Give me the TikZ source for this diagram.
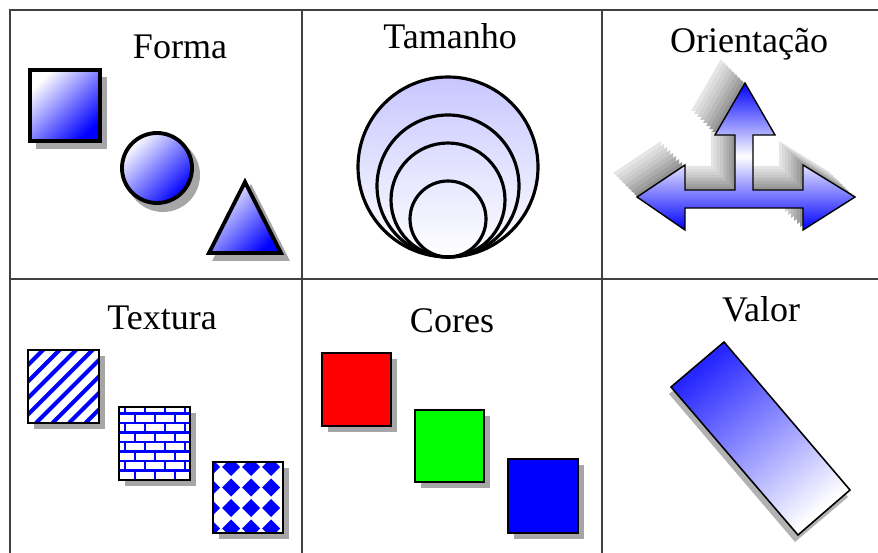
\documentclass[tikz,border=0pt]{standalone}
\usepackage{fontspec}
\setmainfont{Liberation Serif}
\usetikzlibrary{positioning}

% outline of the three-way arrow (pixel units, y downwards)
\newcommand{\triarrow}{(745,83) -- (775,135) -- (753,135) -- (753,190) -- (803,190) -- (803,165)
  -- (855,197) -- (803,230) -- (803,208) -- (685,208) -- (685,230) -- (637,197) -- (685,165)
  -- (685,190) -- (735,190) -- (735,135) -- (715,135) -- cycle}

\begin{document}
\begin{tikzpicture}[x=0.02cm, y=-0.02cm,
    grid/.style={draw=black!75, line width=1.1pt},
    title/.style={anchor=base, inner sep=0pt, font=\fontsize{20.5}{24}\selectfont},
    shadow/.style={fill=black!35, draw=none},
    solidshape/.style={draw=black, line width=2.2pt, top color=white, bottom color=blue, shading angle=45},
    ring/.style={draw=black, line width=1.8pt},
    swatch/.style={draw=black, line width=1.1pt},
    stripe/.style={draw=blue, line width=2.4pt},
    brick/.style={draw=blue, line width=1.6pt}]

    \useasboundingbox (0,0) rectangle (878,553);

    % frame of the six cells
    \draw[grid] (878,10) -- (10,10) -- (10,553);
    \draw[grid] (302,10) -- (302,553);
    \draw[grid] (602,10) -- (602,553);
    \draw[grid] (10,279) -- (878,279);

    \node[title] (forma) at (180,59) {Forma};
    \node[title] (tamanho) at (450,49) {Tamanho};
    \node[title] (orientacao) at (749,53) {Orientação};
    \node[title] (textura) at (162,330) {Textura};
    \node[title] (cores) at (452,333) {Cores};
    \node[title] (valor) at (761,322) {Valor};

    % Forma
    \fill[shadow] (36,77) rectangle (107,149);
    \draw[solidshape] (30,70) rectangle (100,141);
    \fill[shadow] (163,175) circle (37);
    \draw[solidshape] (157,168) circle (35);
    \fill[shadow] (251,184) -- (290,261) -- (212,261) -- cycle;
    \draw[solidshape] (245,182) -- (281,253) -- (209,253) -- cycle;

    % Tamanho
    \draw[ring, top color=blue!22, bottom color=white] (448,167) circle (90);
    \draw[ring] (448,186) circle (71);
    \draw[ring] (448,200) circle (57);
    \draw[ring] (448,219) circle (38);

    % Orientacao
    \foreach \s/\g in {24/10, 21/14, 18/18, 15/22, 12/27, 9/32, 6/37, 3/42}
        \fill[black!\g, shift={(-\s,-\s)}] \triarrow;
    \draw[black, line width=0.8pt, top color=blue, bottom color=blue, middle color=white] \triarrow;

    % Textura
    \fill[shadow] (34,356) rectangle (105,429);
    \begin{scope}
        \clip (28,350) rectangle (99,423);
        \fill[white] (28,350) rectangle (99,423);
        \foreach \k in {-5,...,4}
            \draw[stripe] (36+\k*16.5,423) -- ++(75,-75);
    \end{scope}
    \draw[swatch] (28,350) rectangle (99,423);

    \fill[shadow] (125,413) rectangle (196,486);
    \begin{scope}
        \clip (119,407) rectangle (190,480);
        \fill[white] (119,407) rectangle (190,480);
        \foreach \k in {0,...,6}
            \draw[brick] (119,413.5+9.5*\k) -- (190,413.5+9.5*\k);
        \foreach \r [evaluate=\r as \off using {mod(\r,2)*10}] in {0,...,7}
            \foreach \j in {0,...,3}
                \draw[brick] (125+\off+20*\j,404+9.5*\r) -- ++(0,9.5);
    \end{scope}
    \draw[swatch] (119,407) rectangle (190,480);

    \fill[shadow] (219,468) rectangle (289,539);
    \begin{scope}
        \clip (213,462) rectangle (283,533);
        \fill[white] (213,462) rectangle (283,533);
        \foreach \i in {0,...,4}
            \foreach \j in {0,...,3}
                \fill[blue] (211+20*\i,458+20.5*\j) -- ++(9,9) -- ++(-9,9) -- ++(-9,-9) -- cycle;
    \end{scope}
    \draw[swatch] (213,462) rectangle (283,533);

    % Cores
    \fill[shadow] (328,359) rectangle (397,432);
    \draw[swatch, fill=red] (322,353) rectangle (391,426);
    \fill[shadow] (421,416) rectangle (490,488);
    \draw[swatch, fill=green] (415,410) rectangle (484,482);
    \fill[shadow] (514,465) rectangle (584,539);
    \draw[swatch, fill=blue] (508,459) rectangle (578,533);

    % Valor
    \fill[black!30] (669,394) -- (722,349) -- (848,497) -- (795,542) -- cycle;
    \draw[black, line width=0.9pt, top color=blue!85, bottom color=white, shading angle=40]
        (724,342) -- (850,490) -- (798,535) -- (671,387) -- cycle;
\end{tikzpicture}
\end{document}
